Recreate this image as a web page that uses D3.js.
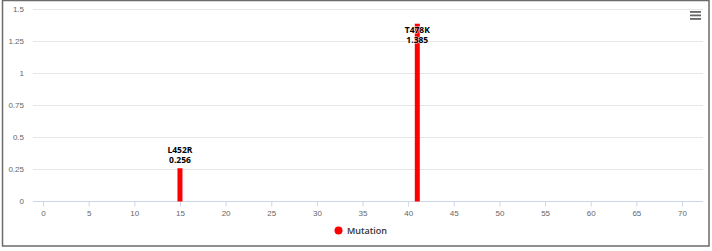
<!DOCTYPE html>
<html><head><meta charset="utf-8">
<script src="https://cdn.jsdelivr.net/npm/d3@7"></script>
<style>
html,body{margin:0;padding:0;background:#fff;}
svg{display:block;font-family:"Open Sans","Liberation Sans",sans-serif;}
</style></head>
<body><svg id="c" width="712" height="251"></svg>
<script>
const mutations = ["L452R", "T478K"];
const positions = [15, 41];
const values = [0.256, 1.385];
const yTicks = [0, 0.25, 0.5, 0.75, 1, 1.25, 1.5];
const xTicks = [0,5,10,15,20,25,30,35,40,45,50,55,60,65,70];
const seriesName = "Mutation";

const svg = d3.select("#c");
// outer border
svg.append("rect").attr("x",2.5).attr("y",0.5).attr("width",706.5).attr("height",245.5)
  .attr("fill","#fff").attr("stroke","#6b6b6b").attr("stroke-width",1.5);

const x = d3.scaleLinear().domain([-1.1, 72.3]).range([33, 703]);
const y = d3.scaleLinear().domain([0, 1.5]).range([201, 9]);

// gridlines
svg.append("g").selectAll("line").data(yTicks.filter(d=>d>0)).join("line")
  .attr("x1",33).attr("x2",703).attr("y1",d=>y(d)+0.5).attr("y2",d=>y(d)+0.5)
  .attr("stroke","#e6e6e6").attr("stroke-width",1);

// y axis labels
const ya = svg.append("g").attr("transform","translate(24,0)")
  .call(d3.axisLeft(y).tickValues(yTicks).tickSize(0).tickPadding(0).tickFormat(d=>String(d)));
ya.select(".domain").remove();
ya.selectAll("text").attr("fill","#666").style("font-size","8px");

// x axis
const xa = svg.append("g").attr("transform","translate(0,201.5)")
  .call(d3.axisBottom(x).tickValues(xTicks).tickSize(5).tickPadding(4).tickFormat(d=>String(d)));
xa.select(".domain").attr("stroke","#ccd6eb").attr("d","M33,0H703");
xa.selectAll(".tick line").attr("stroke","#ccd6eb");
xa.selectAll("text").attr("fill","#666").style("font-size","8px");

// bars
svg.append("g").selectAll("rect").data(values).join("rect")
  .attr("x",(d,i)=>x(positions[i])-2.5).attr("width",5)
  .attr("y",d=>y(d)).attr("height",d=>y(0)-y(d)+0.5)
  .attr("fill","#ff0000");

// data labels (kept inside plot area), two lines each
const labG = svg.append("g").selectAll("g").data(values).join("g")
  .attr("transform",(d,i)=>`translate(${x(positions[i])},${Math.max(y(d)-15, 33)})`);
const styleLabel = s => s.attr("text-anchor","middle").attr("fill","#000")
  .attr("stroke","#fff").attr("stroke-width",1.5).attr("stroke-opacity",0.6).style("paint-order","stroke")
  .style("font-size","8.5px").style("font-weight","bold");
labG.append("text").call(styleLabel).attr("y",0).text((d,i)=>mutations[i]);
labG.append("text").call(styleLabel).attr("y",10).text(d=>d3.format(".3f")(d));

// legend
svg.append("circle").attr("cx",338.5).attr("cy",230.5).attr("r",4).attr("fill","#ff0000");
svg.append("text").attr("x",347).attr("y",234).text(seriesName)
  .attr("fill","#333").style("font-size","9px").style("font-weight","600");

// menu icon
const m = svg.append("g");
[0,1,2].forEach(i=>m.append("rect").attr("x",690).attr("y",11+i*3.5).attr("width",11).attr("height",1.8).attr("fill","#666"));
</script></body></html>
